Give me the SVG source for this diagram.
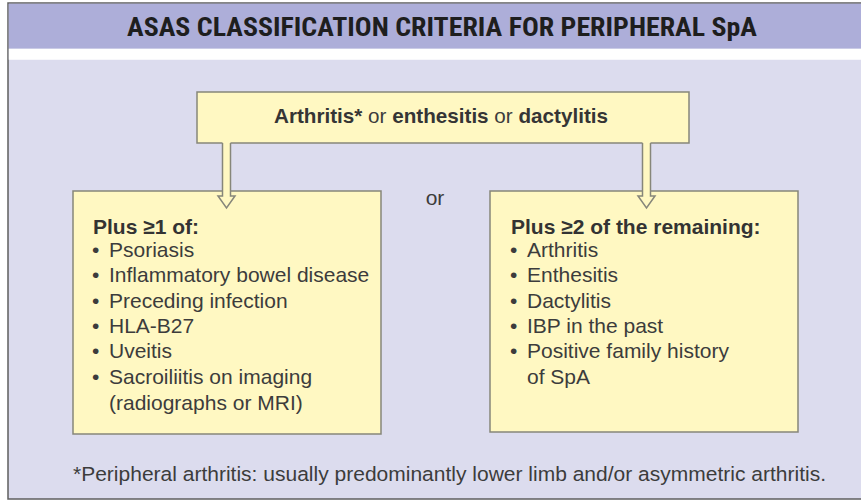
<svg xmlns="http://www.w3.org/2000/svg" width="861" height="503" viewBox="0 0 861 503">
<style>
.box{fill:#fff8c2;stroke:#86867a;stroke-width:1.5}
.body{font-family:"Liberation Sans",Arial,sans-serif;font-size:21px;fill:#3c3c3c}
.hd{font-family:"Liberation Sans",Arial,sans-serif;font-size:21px;fill:#333333;font-weight:bold}
.med{font-weight:bold;fill:#353535}
.arrfill{fill:#fff8c2;stroke:none}
.arrline{fill:none;stroke:#86867a;stroke-width:1.5;stroke-linejoin:miter}
.title{font-family:"Liberation Sans Narrow","Roboto Condensed","Liberation Sans",Arial,sans-serif;font-size:25px;font-weight:bold;fill:#1e1e1e}
.foot{font-family:"Liberation Sans Narrow","Liberation Sans",Arial,sans-serif;font-size:20.5px;fill:#3c3c3c}
</style>
<rect x="0" y="0" width="861" height="503" fill="#ffffff"/>
<g id="panel">
<rect x="8" y="3" width="860" height="496" fill="#dcdcee" stroke="#5f5f5f" stroke-width="1.5"/>
<rect x="8.75" y="3.75" width="852.25" height="45" fill="#adaed9"/>
<rect x="8.75" y="48.75" width="852.25" height="11" fill="#ffffff"/>
</g>
<g id="title">
<text class="title" x="442" y="36" text-anchor="middle" textLength="630" lengthAdjust="spacingAndGlyphs">ASAS CLASSIFICATION CRITERIA FOR PERIPHERAL SpA</text>
</g>
<g id="node-entry">
<rect class="box" x="197" y="92" width="492" height="51"/>
<text class="body" x="441" y="123" text-anchor="middle" textLength="334" lengthAdjust="spacingAndGlyphs"><tspan class="med">Arthritis*</tspan> or <tspan class="med">enthesitis</tspan> or <tspan class="med">dactylitis</tspan></text>
</g>
<g id="node-left">
<rect class="box" x="73" y="191" width="308" height="243"/>
<text class="hd" x="93" y="234">Plus ≥1 of:</text>
<g class="body">
<text x="92" y="257">•</text><text x="109" y="257">Psoriasis</text>
<text x="92" y="282">•</text><text x="109" y="282">Inflammatory bowel disease</text>
<text x="92" y="308">•</text><text x="109" y="308">Preceding infection</text>
<text x="92" y="333">•</text><text x="109" y="333">HLA-B27</text>
<text x="92" y="358">•</text><text x="109" y="358">Uveitis</text>
<text x="92" y="384">•</text><text x="109" y="384">Sacroiliitis on imaging</text>
<text x="109" y="410">(radiographs or MRI)</text>
</g>
</g>
<g id="node-or">
<text class="body" x="435" y="205" text-anchor="middle">or</text>
</g>
<g id="node-right">
<rect class="box" x="490" y="191" width="308" height="241"/>
<text class="hd" x="511" y="234">Plus ≥2 of the remaining:</text>
<g class="body">
<text x="510" y="257">•</text><text x="527" y="257">Arthritis</text>
<text x="510" y="282">•</text><text x="527" y="282">Enthesitis</text>
<text x="510" y="308">•</text><text x="527" y="308">Dactylitis</text>
<text x="510" y="333">•</text><text x="527" y="333">IBP in the past</text>
<text x="510" y="358">•</text><text x="527" y="358">Positive family history</text>
<text x="527" y="384">of SpA</text>
</g>
</g>
<g id="connectors">
<g id="arrow-left">
<polygon class="arrfill" points="222.5,141 222.5,196 218,196 226.5,208 235,196 230.5,196 230.5,141"/>
<polyline class="arrline" points="222.5,143 222.5,196 218,196 226.5,208 235,196 230.5,196 230.5,143"/>
</g>
<g id="arrow-right">
<polygon class="arrfill" points="642.5,141 642.5,196 638,196 646.5,208 655,196 650.5,196 650.5,141"/>
<polyline class="arrline" points="642.5,143 642.5,196 638,196 646.5,208 655,196 650.5,196 650.5,143"/>
</g>
</g>
<g id="footnote">
<text class="foot" x="73" y="481" textLength="753" lengthAdjust="spacingAndGlyphs">*Peripheral arthritis: usually predominantly lower limb and/or asymmetric arthritis.</text>
</g>
</svg>
